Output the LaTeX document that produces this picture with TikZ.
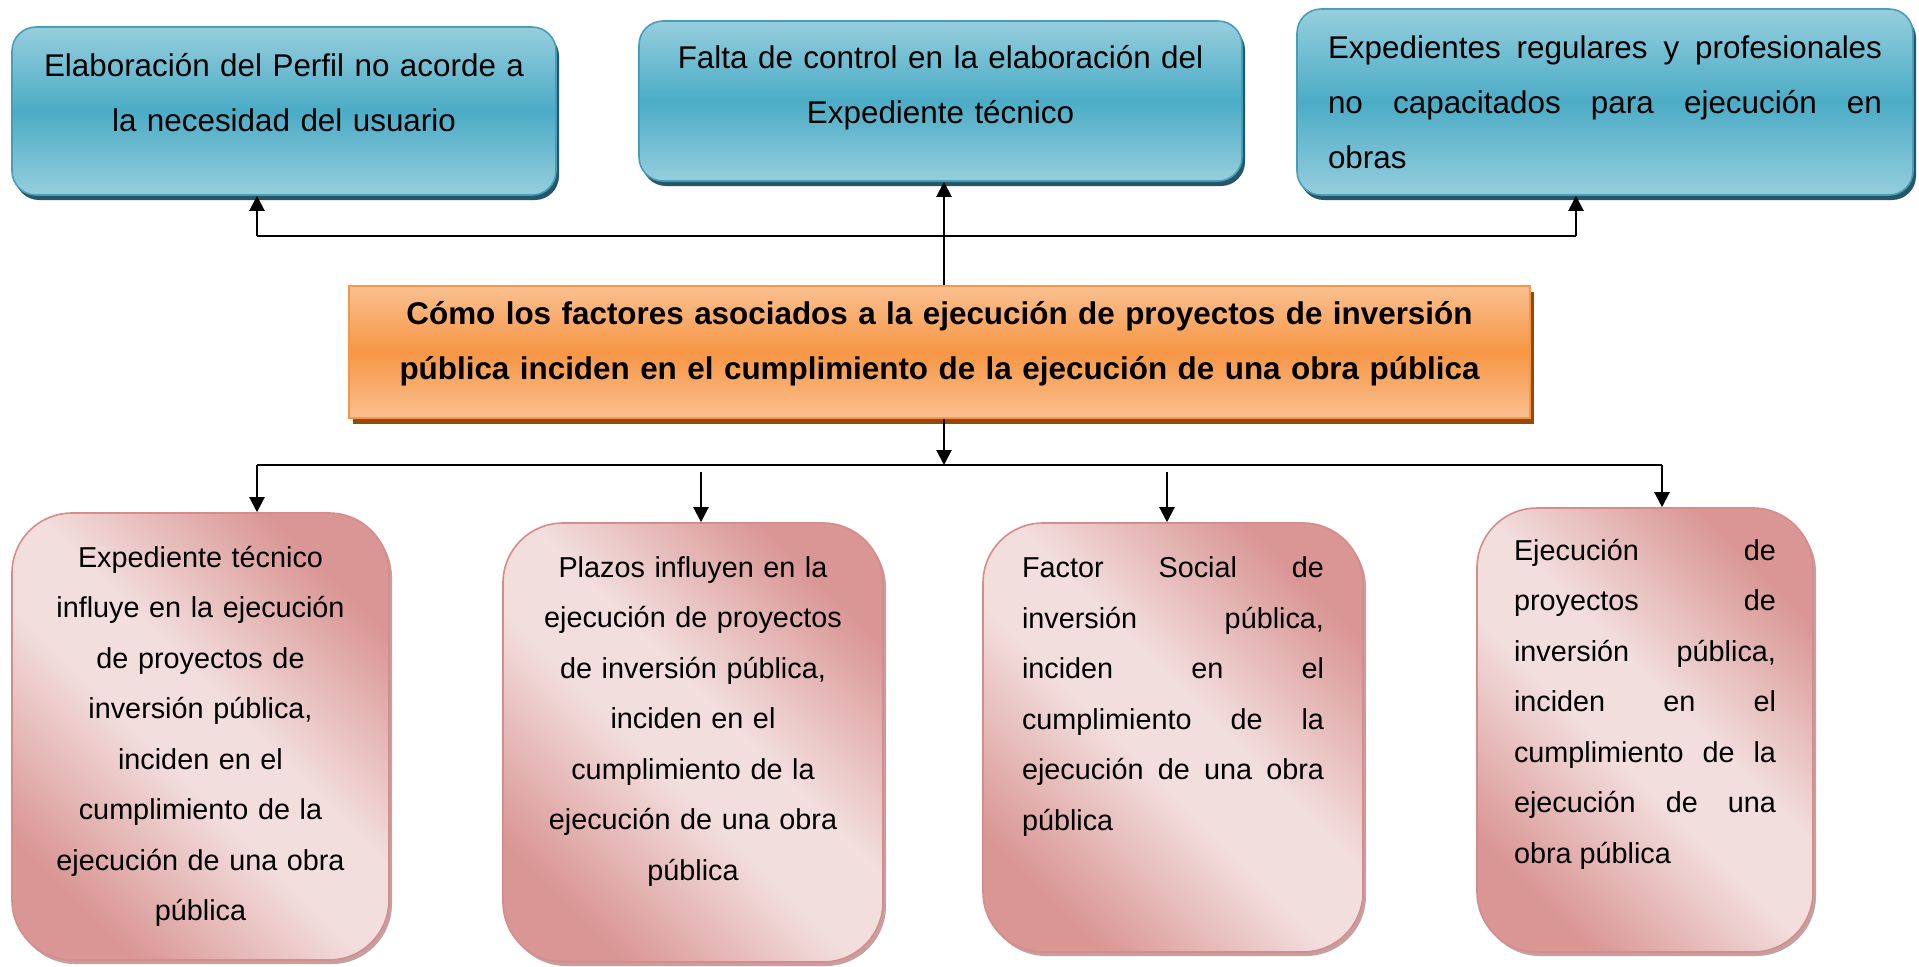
\documentclass[tikz,border=0pt]{standalone}
\usepackage{fontspec}
\setmainfont{Liberation Sans}
\usepackage{tikz}
\usetikzlibrary{arrows.meta}
\usetikzlibrary{shadows}
\usetikzlibrary{positioning}
\tolerance=10000
\hbadness=10000
\definecolor{azCla}{RGB}{150,206,221}
\definecolor{azOsc}{RGB}{75,172,198}
\definecolor{azBorde}{RGB}{70,158,184}
\definecolor{azSombra}{RGB}{36,88,104}
\definecolor{naCla}{RGB}{250,192,144}
\definecolor{naOsc}{RGB}{247,150,70}
\definecolor{naSombra}{RGB}{152,72,7}
\definecolor{rosCla}{RGB}{242,222,221}
\definecolor{rosOsc}{RGB}{217,150,148}
\definecolor{rosBorde}{RGB}{214,140,138}
\definecolor{rosSombra}{RGB}{196,160,160}
\pgfdeclareverticalshading{rosado}{100bp}{color(0bp)=(rosOsc); color(25bp)=(rosOsc); color(45bp)=(rosCla); color(55bp)=(rosCla); color(75bp)=(rosOsc); color(100bp)=(rosOsc)}
\tikzstyle{efecto}=[rectangle, rounded corners=12pt, draw=azBorde, line width=0.8pt, top color=azCla, bottom color=azCla, middle color=azOsc, drop shadow={shadow xshift=1.5pt,shadow yshift=-2.5pt,fill=azSombra,opacity=1}, inner sep=0pt, font=\fontsize{15.7}{27.5}\selectfont]
\tikzstyle{problema}=[rectangle, draw=naOsc, line width=0.8pt, top color=naCla, bottom color=naCla, middle color=naOsc, drop shadow={shadow xshift=2pt,shadow yshift=-3pt,fill=naSombra,opacity=1}, inner sep=0pt, font=\fontsize{15.7}{27.5}\selectfont\bfseries]
\tikzstyle{causa}=[rectangle, rounded corners=30pt, draw=rosBorde, line width=0.8pt, shade, shading=rosado, shading angle=-45, drop shadow={shadow xshift=1.5pt,shadow yshift=-2pt,fill=rosSombra,opacity=1}, inner sep=0pt, font=\fontsize{14.4}{25.25}\selectfont]
\tikzstyle{flecha}=[draw,-{Triangle[width=7.5pt,length=7.5pt]}, line width=1.1pt]
\tikzstyle{linea}=[draw, line width=0.9pt]
\newcommand{\subir}[1]{\rule[-#1]{0pt}{#1}}

\begin{document}
\begin{tikzpicture}[x=0.5pt,y=-0.5pt]
	\useasboundingbox (0,0) rectangle (1919,966);
	% efectos
	\node[efecto, minimum width=272pt, minimum height=84pt, text width=260pt, align=center] (ef1) at (284,111) {Elaboración del Perfil no acorde a\\ la necesidad del usuario\subir{19pt}};
	\node[efecto, minimum width=301.5pt, minimum height=80pt, text width=290pt, align=center] (ef2) at (940.5,101) {Falta de control en la elaboración del\\ Expediente técnico\subir{17pt}};
	\node[efecto, minimum width=308pt, minimum height=93pt, text width=277pt, align=justify] (ef3) at (1605,102) {Expedientes regulares y profesionales\linebreak no capacitados para ejecución en\linebreak obras};
	% problema
	\node[problema, minimum width=590.5pt, minimum height=66pt, text width=570pt, align=center] (prob) at (939.5,352) {Cómo los factores asociados a la ejecución de proyectos de inversión\\ pública inciden en el cumplimiento de la ejecución de una obra pública\subir{12pt}};
	% causas
	\node[causa, minimum width=188.5pt, minimum height=223.5pt, text width=170pt, align=center] (ca1) at (200.5,736.5) {Expediente técnico\\ influye en la ejecución\\ de proyectos de\\ inversión pública,\\ inciden en el\\ cumplimiento de la\\ ejecución de una obra\\ pública};
	\node[causa, minimum width=190pt, minimum height=219.5pt, text width=175pt, align=center] (ca2) at (693,742.5) {Plazos influyen en la\\ ejecución de proyectos\\ de inversión pública,\\ inciden en el\\ cumplimiento de la\\ ejecución de una obra\\ pública\subir{24pt}};
	\node[causa, minimum width=190pt, minimum height=214.5pt, text width=151pt, align=justify] (ca3) at (1173,737.5) {Factor Social de\linebreak inversión pública,\linebreak inciden en el\linebreak cumplimiento de la\linebreak ejecución de una obra\linebreak pública\subir{44pt}};
	\node[causa, minimum width=168pt, minimum height=222pt, text width=131pt, align=justify] (ca4) at (1645,730) {Ejecución de\linebreak proyectos de\linebreak inversión pública,\linebreak inciden en el\linebreak cumplimiento de la\linebreak ejecución de una\linebreak obra pública\subir{29pt}};
	% conectores
	\coordinate (eje) at (944,0);
	\coordinate (arr1) at (257,236);
	\coordinate (arr3) at (1576,236);
	\draw[linea] (arr1) -- (arr3);
	\draw[flecha] (arr1) -- (ef1.south -| arr1);
	\draw[flecha] (arr3) -- (ef3.south -| arr3);
	\draw[flecha] (prob.north -| eje) -- (ef2.south -| eje);
	\coordinate (ab1) at (257,465);
	\coordinate (ab2) at (701,472);
	\coordinate (ab3) at (1167,472);
	\coordinate (ab4) at (1662,465);
	\draw[linea] (ab1) -- (ab4);
	\draw[flecha] (prob.south -| eje) -- (eje |- ab1);
	\draw[flecha] (ab1) -- (ca1.north -| ab1);
	\draw[flecha] (ab2) -- (ca2.north -| ab2);
	\draw[flecha] (ab3) -- (ca3.north -| ab3);
	\draw[flecha] (ab4) -- (ca4.north -| ab4);
\end{tikzpicture}
\end{document}
